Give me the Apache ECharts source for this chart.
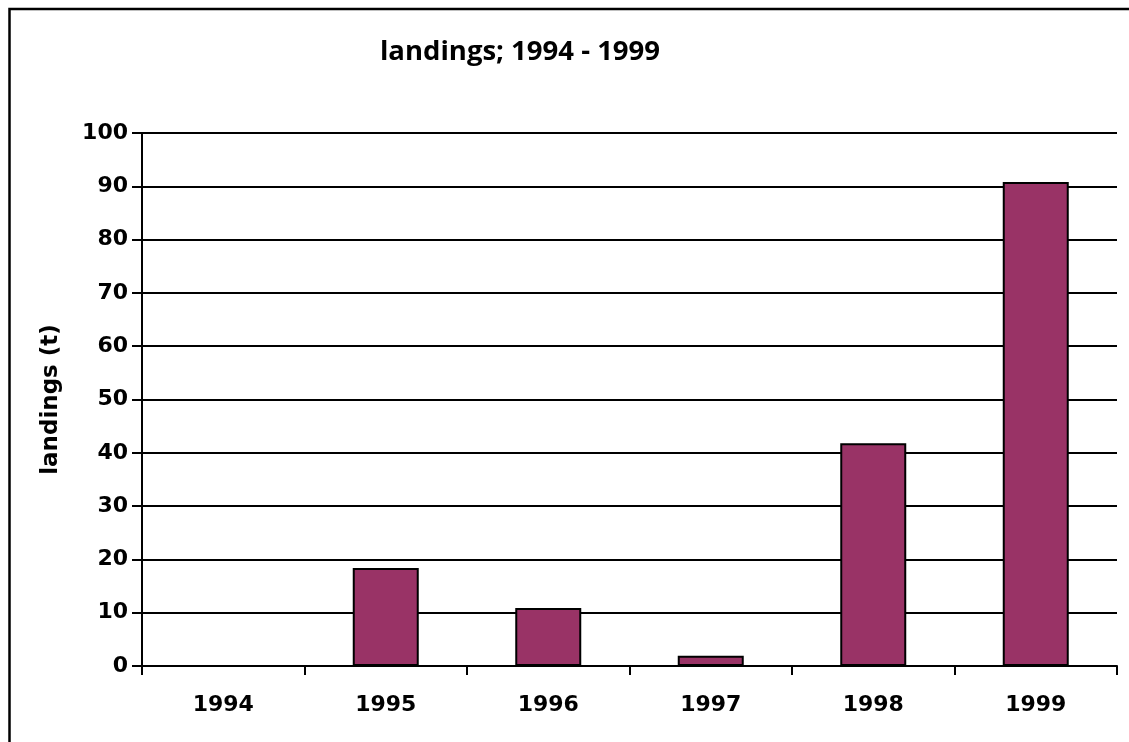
<!DOCTYPE html>
<html>
<head>
<meta charset="utf-8">
<script src="https://cdn.jsdelivr.net/npm/echarts@6/dist/echarts.min.js"></script>
<style>
html,body{margin:0;padding:0;background:#fff;}
#chart{width:1129px;height:742px;}
</style>
</head>
<body>
<div id="chart"></div>
<script>
var titleText = 'landings; 1994 - 1999';
var yAxisName = 'landings (t)';
var years = ['1994', '1995', '1996', '1997', '1998', '1999'];
var landings = [0, 18.4, 10.9, 1.9, 41.8, 90.8];
var yMin = 0, yMax = 100, yInterval = 10;

var chart = echarts.init(document.getElementById('chart'), null, {renderer: 'canvas'});
var labelFont = {fontFamily: 'DejaVu Sans', fontWeight: 'bold', fontSize: 22, color: '#000'};
chart.setOption({
  backgroundColor: '#fff',
  animation: false,
  graphic: [
    {type: 'rect', z: 100, silent: true,
     shape: {x: 9.5, y: 9, width: 1300, height: 900},
     style: {fill: 'none', stroke: '#000', lineWidth: 2.5}},
    {type: 'text', z: 100, x: 520, y: 52,
     style: {text: titleText, fontFamily: 'Open Sans', fontWeight: 'bold', fontSize: 27.5,
             fill: '#000', textAlign: 'center', textVerticalAlign: 'middle'}}
  ],
  grid: {left: 142, right: 12, top: 133, bottom: 76, containLabel: false},
  xAxis: {
    type: 'category',
    data: years,
    boundaryGap: true,
    axisLine: {lineStyle: {color: '#000', width: 2}},
    axisTick: {show: true, length: 9, lineStyle: {color: '#000', width: 2}},
    axisLabel: Object.assign({margin: 28}, labelFont),
    splitLine: {show: false}
  },
  yAxis: {
    type: 'value',
    min: yMin, max: yMax, interval: yInterval,
    name: yAxisName,
    nameLocation: 'middle',
    nameGap: 79,
    nameRotate: 90,
    nameTextStyle: {fontFamily: 'DejaVu Sans', fontWeight: 'bold', fontSize: 23, color: '#000'},
    axisLine: {show: true, lineStyle: {color: '#000', width: 2}},
    axisTick: {show: true, length: 10, lineStyle: {color: '#000', width: 2}},
    axisLabel: Object.assign({margin: 14}, labelFont),
    splitLine: {show: true, lineStyle: {color: '#000', width: 2}}
  },
  series: [{
    type: 'bar',
    data: landings,
    barWidth: 66,
    itemStyle: {color: '#993366', borderColor: '#000', borderWidth: 2}
  }]
});
</script>
</body>
</html>
